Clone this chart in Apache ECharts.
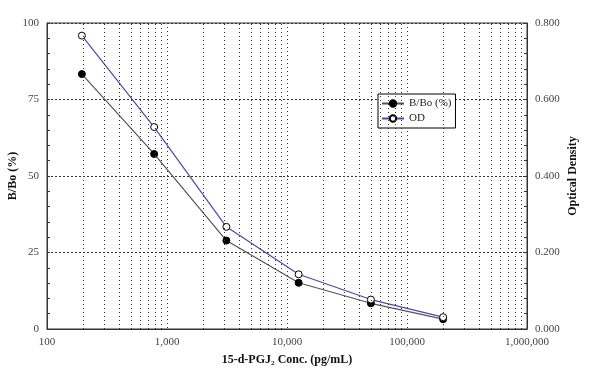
<!DOCTYPE html>
<html>
<head>
<meta charset="utf-8">
<script src="https://cdn.jsdelivr.net/npm/echarts@6/dist/echarts.min.js"></script>
<style>html,body{margin:0;padding:0;background:#fff}#c{width:589px;height:369px}</style>
</head>
<body>
<div id="c"></div>
<script>
const conc = [195.3, 781.25, 3125, 12500, 50000, 200000];
const bbo = [83.3, 57.2, 28.9, 15.1, 8.4, 3.2];
const od = [0.767, 0.528, 0.267, 0.143, 0.077, 0.031];
const minorGrid = [200,300,400,500,600,700,800,900,2000,3000,4000,5000,6000,7000,8000,9000,20000,30000,40000,50000,60000,70000,80000,90000,200000,300000,400000,500000,600000,700000,800000,900000];
const xTitle = '15-d-PGJ\u2082 Conc. (pg/mL)';
const yTitle = 'B/Bo (%)';
const y2Title = 'Optical Density';

const font = 'Liberation Serif';
const chart = echarts.init(document.getElementById('c'), null, {renderer: 'canvas'});
chart.setOption({
  animation: false,
  backgroundColor: '#fff',
  grid: {left: 47, right: 62, top: 23, bottom: 40, containLabel: false, outerBoundsMode: 'none',
    show: true, borderColor: '#333', borderWidth: 1, backgroundColor: 'transparent'},
  legend: {
    left: 378, top: 94, orient: 'vertical', itemGap: 4, itemWidth: 22, itemHeight: 8,
    padding: [4, 4, 4, 3], borderColor: '#000', borderWidth: 1, backgroundColor: '#fff',
    textStyle: {fontFamily: font, fontSize: 11, color: '#222'},
    data: ['B/Bo (%)', 'OD']
  },
  xAxis: {
    type: 'log', logBase: 10, min: 100, max: 1000000,
    name: xTitle, nameLocation: 'middle', nameGap: 25,
    nameTextStyle: {fontFamily: font, fontWeight: 'bold', fontSize: 12, color: '#111'},
    axisLine: {lineStyle: {color: '#333'}},
    axisTick: {show: false},
    axisLabel: {fontFamily: font, fontSize: 11, color: '#444', margin: 8,
      formatter: v => Math.round(v).toLocaleString('en-US')},
    splitLine: {show: true, lineStyle: {color: '#333', type: [1, 3], width: 1}}
  },
  yAxis: [{
    type: 'value', min: 0, max: 100, interval: 25,
    name: yTitle, nameLocation: 'middle', nameGap: 28, nameRotate: 90, nameMoveOverlap: false,
    nameTextStyle: {fontFamily: font, fontWeight: 'bold', fontSize: 12, color: '#111'},
    axisLine: {show: true, lineStyle: {color: '#333'}},
    axisTick: {show: true, inside: true, length: 3, lineStyle: {color: '#333'}},
    minorTick: {show: true, splitNumber: 5, length: 3, lineStyle: {color: '#333'}},
    axisLabel: {fontFamily: font, fontSize: 11, color: '#444', margin: 8},
    splitLine: {show: true, lineStyle: {color: '#333', type: [2, 2], width: 1}}
  }, {
    type: 'value', min: 0, max: 0.8, interval: 0.2, position: 'right',
    name: y2Title, nameLocation: 'middle', nameGap: 40, nameRotate: 90, nameMoveOverlap: false,
    nameTextStyle: {fontFamily: font, fontWeight: 'bold', fontSize: 12, color: '#111'},
    axisLine: {show: true, lineStyle: {color: '#333'}},
    axisTick: {show: true, inside: true, length: 3, lineStyle: {color: '#333'}},
    minorTick: {show: true, splitNumber: 5, length: 3, lineStyle: {color: '#333'}},
    axisLabel: {fontFamily: font, fontSize: 11, color: '#444', margin: 8, formatter: v => v.toFixed(3)},
    splitLine: {show: false}
  }],
  series: [{
    name: 'minor', type: 'line', data: [], silent: true,
    markLine: {silent: true, symbol: 'none', label: {show: false},
      lineStyle: {color: '#333', type: [1, 3], width: 1},
      data: minorGrid.map(v => ({xAxis: v}))}
  }, {
    name: 'B/Bo (%)', type: 'line', yAxisIndex: 0,
    data: conc.map((c, i) => [c, bbo[i]]),
    symbol: 'circle', symbolSize: 7,
    lineStyle: {color: '#555', width: 1.2},
    itemStyle: {color: '#000', borderColor: '#000', borderWidth: 1}
  }, {
    name: 'OD', type: 'line', yAxisIndex: 1,
    data: conc.map((c, i) => [c, od[i]]),
    symbol: 'circle', symbolSize: 7,
    lineStyle: {color: '#4a4aa8', width: 1.2},
    itemStyle: {color: '#fff', borderColor: '#000', borderWidth: 1}
  }]
});
</script>
</body>
</html>
